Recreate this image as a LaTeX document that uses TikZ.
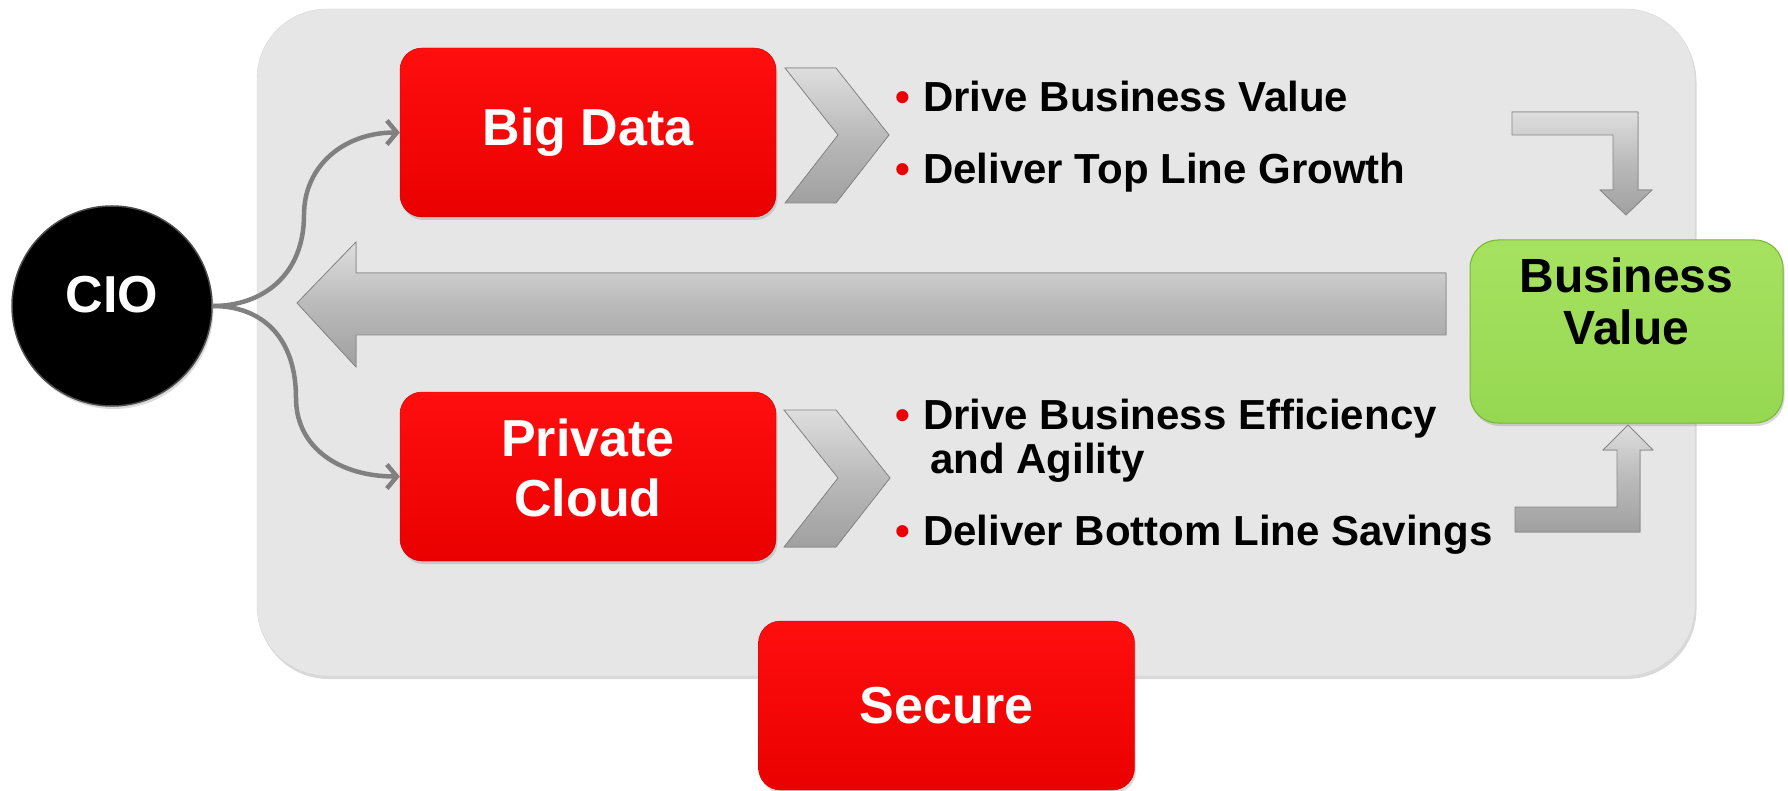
\documentclass[tikz,border=0pt]{standalone}
\usepackage{fontspec}
\setmainfont{Liberation Sans}
\usetikzlibrary{arrows.meta,shadows}

\definecolor{BoxRedTop}{RGB}{255,14,14}
\definecolor{BoxRedBot}{RGB}{234,0,0}
\definecolor{BoxRedEdge}{RGB}{200,0,0}
\definecolor{PanelGrey}{RGB}{230,230,230}
\definecolor{PanelEdge}{RGB}{212,212,212}
\definecolor{LeafTop}{RGB}{166,226,96}
\definecolor{LeafBot}{RGB}{150,216,82}
\definecolor{LeafEdge}{RGB}{118,182,50}
\definecolor{CurveGrey}{RGB}{128,128,128}
\definecolor{ArrowLight}{RGB}{222,222,222}
\definecolor{ArrowMid}{RGB}{186,186,186}
\definecolor{ArrowDark}{RGB}{160,160,160}
\definecolor{ArrowEdge}{RGB}{135,135,135}
\definecolor{BulletRed}{RGB}{235,0,0}

\tikzset{
  softshadow/.style={drop shadow={shadow xshift=1.5pt,shadow yshift=-3pt,opacity=0.3}},
  redbox/.style={rectangle, rounded corners=22pt, minimum width=376pt, minimum height=169pt,
    inner sep=0pt, top color=BoxRedTop, bottom color=BoxRedBot, draw=BoxRedEdge,
    text=white, align=center, font=\fontsize{52}{60}\selectfont\bfseries, softshadow},
  metal/.style={draw=ArrowEdge, line width=0.8pt, top color=ArrowLight, bottom color=ArrowDark,
    middle color=ArrowMid},
  curvearrow/.style={CurveGrey, line width=4.5pt, -{Straight Barb[length=10pt,width=24pt]}},
  itemtext/.style={anchor=base west, inner sep=0pt, font=\fontsize{42}{44}\selectfont\bfseries},
  itemdot/.style={anchor=base, inner sep=0pt, text=BulletRed, font=\fontsize{42}{44}\selectfont\bfseries}
}

\begin{document}
\begin{tikzpicture}[x=1pt,y=-1pt]
    \useasboundingbox (0,0) rectangle (1788,791);

    % grey panel behind the boxes
    \filldraw[fill=PanelGrey, draw=PanelEdge, rounded corners=70pt, softshadow] (257,9) rectangle (1695,676);

    % long arrow back towards the CIO
    \filldraw[metal] (297,303) -- (356,242) -- (356,273) -- (1446,273) -- (1446,335) -- (356,335) -- (356,367) -- cycle;

    % chevrons after the red boxes
    \filldraw[metal] (785,68) -- (836,68) -- (889,135) -- (836,203) -- (785,203) -- (838,135) -- cycle;
    \filldraw[metal] (784,410) -- (836,410) -- (890,478) -- (836,547) -- (784,547) -- (838,478) -- cycle;

    % elbow arrows into the green box
    \filldraw[metal] (1512,112) -- (1638,112) -- (1638,190) -- (1652,190) -- (1626,215) -- (1600,190) -- (1613,190) -- (1613,135) -- (1512,135) -- cycle;
    \filldraw[metal] (1515,532) -- (1640,532) -- (1640,450) -- (1653,450) -- (1628,425) -- (1603,450) -- (1617,450) -- (1617,507) -- (1515,507) -- cycle;

    \node[redbox] (BigData) at (588,132.5) {Big Data};
    \node[redbox, text depth=17pt] (PrivCloud) at (588,476.5) {Private\\Cloud};
    \node[redbox] (Secure) at (946.5,705.5) {Secure};

    \node[rectangle, rounded corners=28pt, minimum width=313pt, minimum height=183pt, inner sep=0pt,
      top color=LeafTop, bottom color=LeafBot, draw=LeafEdge, line width=1pt, softshadow] (BizValue) at (1626.5,331.5) {};
    \node[align=center, inner sep=0pt, font=\fontsize{48}{52}\selectfont\bfseries] (BizLabel) at (1626.5,301.5) {Business\\Value};

    \node[circle, minimum size=200pt, inner sep=0pt, fill=black, draw=black!70, line width=1.5pt,
      text=white, text depth=24pt, font=\fontsize{52}{55}\selectfont\bfseries, softshadow] (CIO) at (112,306) {CIO};

    % curved connectors from the CIO
    \coordinate (UpBend)   at (304,215);
    \coordinate (DownBend) at (296,398);
    \draw[curvearrow] (CIO.east) .. controls +(50,0) and +(0,60) .. (UpBend)
        .. controls +(0,-50) and +(-55,0) .. (BigData.west);
    \draw[curvearrow] (CIO.east) .. controls +(50,0) and +(0,-60) .. (DownBend)
        .. controls +(0,50) and +(-60,0) .. (PrivCloud.west);

    % bullet lists
    \foreach \y/\txt in {112/Drive Business Value, 184/Deliver Top Line Growth,
        429/Drive Business Efficiency, 545/Deliver Bottom Line Savings}{%
      \node[itemdot] (Dot\y) at (903,\y) {•};
      \node[itemtext] (Item\y) at (923,\y) {\txt};
    }
    \node[itemtext] (Item473) at (930,473) {and Agility};
\end{tikzpicture}
\end{document}
